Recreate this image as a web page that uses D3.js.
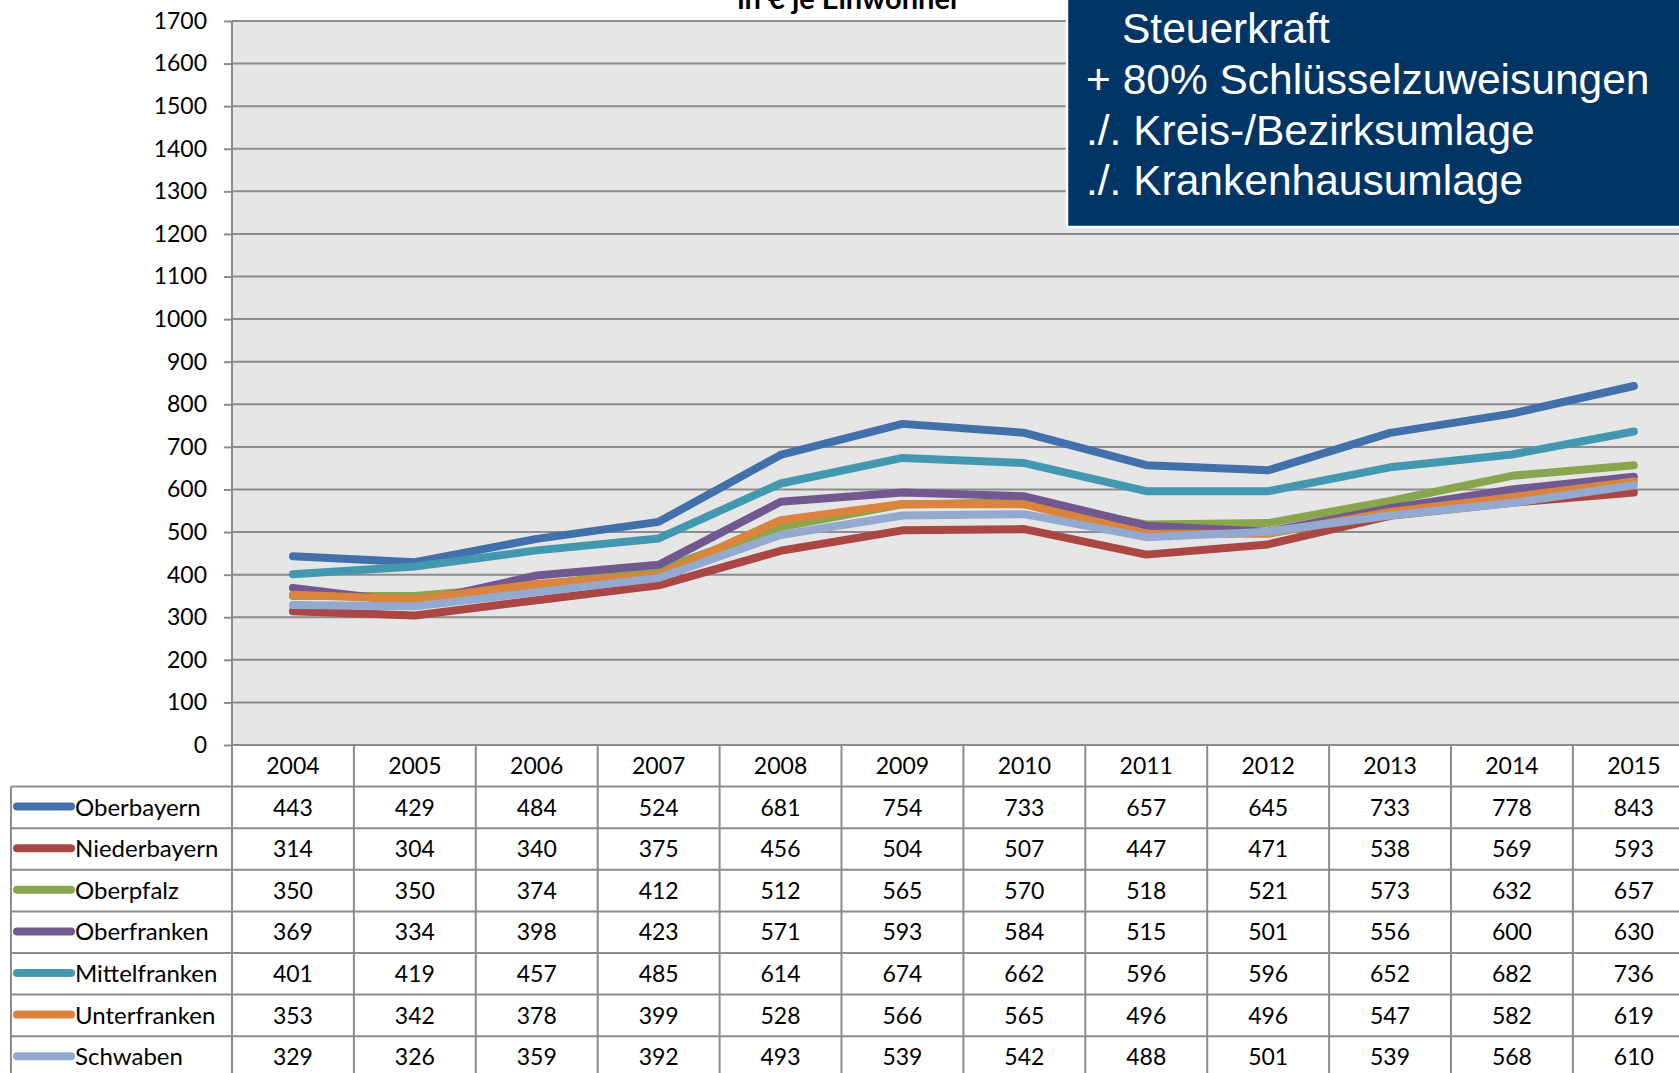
<!DOCTYPE html>
<html>
<head>
<meta charset="utf-8">
<script src="https://cdn.jsdelivr.net/npm/d3@7"></script>
<style>
  html, body { margin: 0; padding: 0; background: #fff; overflow: hidden; }
  svg { display: block; }
</style>
</head>
<body>
<svg id="chart" width="1679" height="1073"></svg>
<script>
var years = ['2004', '2005', '2006', '2007', '2008', '2009', '2010', '2011', '2012', '2013', '2014', '2015'];

var regions = ['Oberbayern', 'Niederbayern', 'Oberpfalz', 'Oberfranken', 'Mittelfranken', 'Unterfranken', 'Schwaben'];

var oberbayern    = [443, 429, 484, 524, 681, 754, 733, 657, 645, 733, 778, 843];
var niederbayern  = [314, 304, 340, 375, 456, 504, 507, 447, 471, 538, 569, 593];
var oberpfalz     = [350, 350, 374, 412, 512, 565, 570, 518, 521, 573, 632, 657];
var oberfranken   = [369, 334, 398, 423, 571, 593, 584, 515, 501, 556, 600, 630];
var mittelfranken = [401, 419, 457, 485, 614, 674, 662, 596, 596, 652, 682, 736];
var unterfranken  = [353, 342, 378, 399, 528, 566, 565, 496, 496, 547, 582, 619];
var schwaben      = [329, 326, 359, 392, 493, 539, 542, 488, 501, 539, 568, 610];

var colors = ['#4170aa', '#aa4643', '#89a54e', '#71588f', '#4198af', '#db843d', '#93a9cf'];

var infoLines = ['Steuerkraft', '+ 80% Schlüsselzuweisungen', './. Kreis-/Bezirksumlage', './. Krankenhausumlage'];

var series = [oberbayern, niederbayern, oberpfalz, oberfranken, mittelfranken, unterfranken, schwaben];

var svg = d3.select('#chart');
var gridColor = '#8c8c8c';
var font = 'Lato, "Open Sans", sans-serif';

var plotLeft = 232, plotTop = 21, plotBottom = 745;
var colW = 121.9;
var rowH = 41.6;
var tableTop = plotBottom + rowH;

var x = d3.scaleBand().domain(years).range([plotLeft, plotLeft + colW * years.length]);
var y = d3.scaleLinear().domain([0, 1700]).range([plotBottom, plotTop]);
var plotRight = x.range()[1];

// plot background
svg.append('rect')
    .attr('x', plotLeft).attr('y', plotTop)
    .attr('width', plotRight - plotLeft).attr('height', plotBottom - plotTop)
    .style('fill', '#e6e6e6');

// gridlines
svg.selectAll('.grid')
    .data(y.ticks(17))
    .enter().append('line')
    .attr('class', 'grid')
    .attr('x1', plotLeft).attr('x2', plotRight)
    .attr('y1', function (d) { return y(d); })
    .attr('y2', function (d) { return y(d); })
    .style('stroke', gridColor)
    .style('stroke-width', 2);

// y axis
var yAxis = svg.append('g')
    .attr('transform', 'translate(' + plotLeft + ',0)')
    .call(d3.axisLeft(y).ticks(17).tickSize(8).tickPadding(17).tickFormat(d3.format('d')));
yAxis.select('.domain').remove();
yAxis.selectAll('.tick line').style('stroke', gridColor).style('stroke-width', 2);
yAxis.selectAll('.tick text')
    .style('font-family', font)
    .style('font-size', '23px')
    .style('fill', '#000');

// lines
var line = d3.line()
    .x(function (d, i) { return x(years[i]) + x.bandwidth() / 2; })
    .y(function (d) { return y(d); });

svg.selectAll('.series')
    .data(series)
    .enter().append('path')
    .attr('class', 'series')
    .attr('d', line)
    .style('fill', 'none')
    .style('stroke', function (d, i) { return colors[i]; })
    .style('stroke-width', 8)
    .style('stroke-linecap', 'round')
    .style('stroke-linejoin', 'round');

// data table
var table = svg.append('g');

// horizontal rules
var rowLines = d3.range(regions.length + 1).map(function (i) { return tableTop + i * rowH; });
table.selectAll('.hrule')
    .data(rowLines)
    .enter().append('line')
    .attr('x1', 11).attr('x2', plotRight)
    .attr('y1', function (d) { return d; })
    .attr('y2', function (d) { return d; })
    .style('stroke', gridColor)
    .style('stroke-width', 2);

// vertical rules
table.selectAll('.vrule')
    .data(years.slice(1))
    .enter().append('line')
    .attr('x1', function (d) { return x(d); })
    .attr('x2', function (d) { return x(d); })
    .attr('y1', plotBottom).attr('y2', 1073)
    .style('stroke', gridColor)
    .style('stroke-width', 2);

table.append('line')
    .attr('x1', plotLeft).attr('x2', plotLeft)
    .attr('y1', plotTop).attr('y2', 1073)
    .style('stroke', gridColor).style('stroke-width', 2);
table.append('line')
    .attr('x1', 11).attr('x2', 11)
    .attr('y1', tableTop).attr('y2', 1073)
    .style('stroke', gridColor).style('stroke-width', 2);

// header years
table.selectAll('.year')
    .data(years)
    .enter().append('text')
    .attr('x', function (d) { return x(d) + x.bandwidth() / 2; })
    .attr('y', plotBottom + 29)
    .style('text-anchor', 'middle')
    .style('font-family', font)
    .style('font-size', '23px')
    .text(function (d) { return d; });

// rows
regions.forEach(function (name, r) {
    var rowTop = tableTop + r * rowH;
    table.append('line')
        .attr('x1', 17).attr('x2', 71)
        .attr('y1', rowTop + 20).attr('y2', rowTop + 20)
        .style('stroke', colors[r])
        .style('stroke-width', 8)
        .style('stroke-linecap', 'round');
    table.append('text')
        .attr('x', 75)
        .attr('y', rowTop + 29)
        .style('font-family', font)
        .style('font-size', '24px')
        .text(name);
    table.selectAll('.v' + r)
        .data(series[r])
        .enter().append('text')
        .attr('x', function (d, i) { return x(years[i]) + x.bandwidth() / 2; })
        .attr('y', rowTop + 29)
        .style('text-anchor', 'middle')
        .style('font-family', font)
        .style('font-size', '23px')
        .text(function (d) { return d; });
});

// chart subtitle (cut off at top)
svg.append('text')
    .attr('x', 849).attr('y', 9)
    .style('text-anchor', 'middle')
    .style('font-family', font)
    .style('font-weight', 'bold')
    .style('font-size', '29px')
    .text('in € je Einwohner');

// info box
svg.append('rect')
    .attr('x', 1067).attr('y', -5)
    .attr('width', 700).attr('height', 232)
    .style('fill', '#013565')
    .style('stroke', '#fff')
    .style('stroke-width', 2.5);

svg.selectAll('.info')
    .data(infoLines)
    .enter().append('text')
    .attr('class', 'info')
    .attr('x', function (d, i) { return i == 0 ? 1122 : 1086; })
    .attr('y', function (d, i) { return 43 + i * 50.8; })
    .style('font-family', '"Liberation Sans", Arial, sans-serif')
    .style('font-size', '42.5px')
    .style('fill', '#fff')
    .text(function (d) { return d; });
</script>
</body>
</html>
